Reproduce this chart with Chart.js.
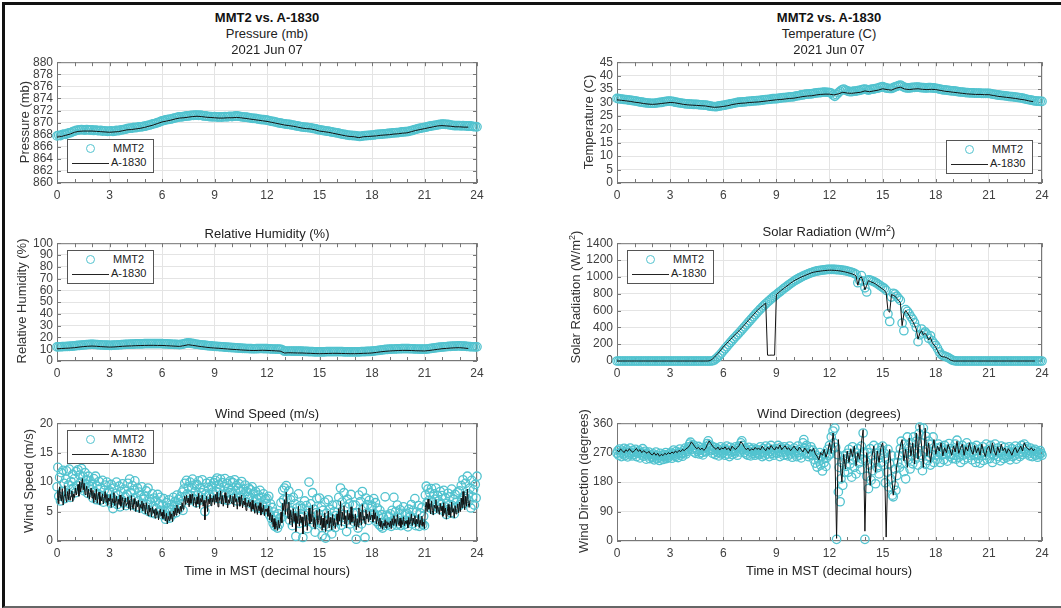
<!DOCTYPE html>
<html>
<head>
<meta charset="utf-8">
<script src="https://cdn.jsdelivr.net/npm/chart.js@4.4.1/dist/chart.umd.min.js"></script>
<style>
  html, body { margin: 0; padding: 0; background: #fff; }
  body { width: 1061px; height: 608px; position: relative; overflow: hidden;
         font-family: "Liberation Sans", Arial, sans-serif; }
  .frame { position: absolute; left: 2px; top: 2px; width: 1059px; height: 601px;
           border-top: 3px solid #111; border-left: 3px solid #111; border-bottom: 2px solid #666; }
  canvas { position: absolute; }
  .tt { position: absolute; transform: translate(-50%, -50%); font-size: 13px; color: #222;
        white-space: nowrap; z-index: 2; }
  .tt.b { font-weight: bold; color: #111; }
  .yt { position: absolute; transform: translate(-50%, -50%) rotate(-90deg); font-size: 13px;
        color: #333; white-space: nowrap; z-index: 2; }
  sup { font-size: 9px; line-height: 0; vertical-align: 5px; }
  .lg { position: absolute; width: 85px; height: 32px; border: 1px solid #555; background: #fff;
        font-size: 11px; color: #222; z-index: 3; }
  .lg .mk { position: absolute; left: 18px; top: 4px; width: 7px; height: 7px;
            border: 1.3px solid #52c3cf; border-radius: 50%; }
  .lg .t1 { position: absolute; left: 45px; top: 2px; }
  .lg .ln { position: absolute; left: 4px; top: 23px; width: 37px; border-top: 1px solid #222; }
  .lg .t2 { position: absolute; left: 43px; top: 16px; }
</style>
</head>
<body>
<div class="frame"></div>

<div class="tt b" style="left:267px;top:17px">MMT2 vs. A-1830</div>
<div class="tt" style="left:267px;top:33px">Pressure (mb)</div>
<div class="tt" style="left:267px;top:49px">2021 Jun 07</div>
<div class="tt b" style="left:829px;top:17px">MMT2 vs. A-1830</div>
<div class="tt" style="left:829px;top:33px">Temperature (C)</div>
<div class="tt" style="left:829px;top:49px">2021 Jun 07</div>
<div class="tt" style="left:267px;top:233px">Relative Humidity (%)</div>
<div class="tt" style="left:829px;top:231px">Solar Radiation (W/m<sup>2</sup>)</div>
<div class="tt" style="left:267px;top:413px">Wind Speed (m/s)</div>
<div class="tt" style="left:829px;top:413px">Wind Direction (degrees)</div>
<div class="tt" style="left:267px;top:570px">Time in MST (decimal hours)</div>
<div class="tt" style="left:829px;top:570px">Time in MST (decimal hours)</div>

<div class="yt" style="left:24px;top:122px">Pressure (mb)</div>
<div class="yt" style="left:588px;top:122px">Temperature (C)</div>
<div class="yt" style="left:21px;top:301px">Relative Humidity (%)</div>
<div class="yt" style="left:575px;top:297px">Solar Radiation (W/m<sup>2</sup>)</div>
<div class="yt" style="left:28px;top:481px">Wind Speed (m/s)</div>
<div class="yt" style="left:583px;top:481px">Wind Direction (degrees)</div>

<script>
(function () {
  'use strict';

  // x axis: hours MST, labelled every 3 h
  var X_TICK_LABELS = [0, 3, 6, 9, 12, 15, 18, 21, 24];
  var STEP_Q = 0.25;   // every 15 min
  var STEP_F = 0.1;    // every 6 min
  var STEP_W = 0.05;   // every 3 min

  // y ranges [min, max, step]
  var Y_PRES = [860, 880, 2];
  var Y_TEMP = [0, 45, 5];
  var Y_RH = [0, 100, 10];
  var Y_SOLAR = [0, 1400, 200];
  var Y_WSPD = [0, 20, 5];
  var Y_WDIR = [0, 360, 90];

  // Pressure (mb) – MMT2 one row per hour (0.1 h), A-1830 quarter hours
  var P_MMT2 = [
    867.8, 867.9, 867.85, 868.0, 868.1, 868.05, 868.2, 868.3, 868.35, 868.5,
    868.6, 868.7, 868.75, 868.8, 868.85, 868.8, 868.75, 868.85, 868.8, 868.75,
    868.8, 868.7, 868.75, 868.7, 868.65, 868.7, 868.6, 868.65, 868.6, 868.55,
    868.6, 868.65, 868.55, 868.6, 868.7, 868.65, 868.75, 868.8, 868.85, 868.9,
    869.0, 869.05, 869.1, 869.1, 869.2, 869.15, 869.25, 869.3, 869.3, 869.35,
    869.4, 869.45, 869.55, 869.6, 869.7, 869.8, 869.85, 869.95, 870.05, 870.15,
    870.3, 870.35, 870.45, 870.5, 870.55, 870.6, 870.65, 870.75, 870.8, 870.9,
    870.95, 870.95, 871.0, 871.05, 871.1, 871.1, 871.15, 871.2, 871.2, 871.25,
    871.25, 871.2, 871.25, 871.15, 871.1, 871.1, 871.05, 871.0, 871.0, 870.95,
    871.0, 870.95, 870.9, 870.95, 870.9, 870.95, 871.0, 870.95, 871.0, 871.05,
    871.0, 871.05, 871.1, 871.1, 871.05, 871.0, 870.95, 870.9, 870.9, 870.85,
    870.8, 870.75, 870.7, 870.7, 870.65, 870.6, 870.55, 870.5, 870.5, 870.45,
    870.4, 870.35, 870.25, 870.2, 870.15, 870.1, 870.0, 869.95, 869.9, 869.85,
    869.8, 869.75, 869.7, 869.7, 869.6, 869.6, 869.5, 869.45, 869.4, 869.35,
    869.3, 869.25, 869.2, 869.2, 869.15, 869.15, 869.05, 869.0, 868.95, 868.85,
    868.8, 868.75, 868.7, 868.65, 868.6, 868.6, 868.5, 868.45, 868.4, 868.35,
    868.3, 868.25, 868.15, 868.1, 868.05, 868.0, 867.95, 867.9, 867.9, 867.85,
    867.85, 867.8, 867.75, 867.7, 867.75, 867.8, 867.85, 867.85, 867.9, 867.9,
    867.95, 867.95, 868.0, 868.05, 868.05, 868.1, 868.1, 868.15, 868.15, 868.2,
    868.2, 868.25, 868.3, 868.3, 868.35, 868.35, 868.4, 868.45, 868.45, 868.5,
    868.5, 868.55, 868.65, 868.7, 868.8, 868.9, 868.95, 869.05, 869.1, 869.15,
    869.2, 869.25, 869.35, 869.4, 869.45, 869.5, 869.55, 869.6, 869.65, 869.7,
    869.75, 869.75, 869.7, 869.7, 869.65, 869.6, 869.55, 869.5, 869.5, 869.5,
    869.5, 869.45, 869.5, 869.45, 869.45, 869.4, 869.45, 869.4, 869.35, 869.35,
    869.3
  ];
  var P_A1830 = [
    867.6, 867.7, 867.9, 868.1, 868.4, 868.55, 868.6, 868.6, 868.6, 868.55, 868.5, 868.45,
    868.4, 868.45, 868.5, 868.65, 868.8, 868.85, 868.95, 869.05, 869.2, 869.4, 869.6, 869.85,
    870.1, 870.25, 870.4, 870.6, 870.75, 870.8, 870.9, 871.0, 871.05, 871.0, 870.9, 870.85,
    870.8, 870.75, 870.75, 870.8, 870.8, 870.85, 870.8, 870.7, 870.6, 870.5, 870.4, 870.3,
    870.2, 870.05, 869.9, 869.75, 869.6, 869.5, 869.4, 869.25, 869.1, 869.0, 868.95, 868.8,
    868.6, 868.5, 868.4, 868.25, 868.1, 867.95, 867.8, 867.7, 867.65, 867.5, 867.65, 867.7,
    867.75, 867.8, 867.9, 867.95, 868.0, 868.1, 868.15, 868.25, 868.3, 868.5, 868.7, 868.85,
    869.0, 869.15, 869.3, 869.45, 869.5, 869.45, 869.4, 869.3, 869.3, 869.25, 869.25
  ];

  // Temperature (C)
  var T_MMT2 = [
    31.5, 31.4, 31.3, 31.3, 31.1, 31.1, 31.0, 30.9, 30.8, 30.7,
    30.6, 30.5, 30.3, 30.2, 30.1, 30.0, 29.9, 29.8, 29.8, 29.7,
    29.7, 29.7, 29.8, 29.9, 30.0, 30.0, 30.2, 30.3, 30.4, 30.5,
    30.5, 30.4, 30.3, 30.1, 30.0, 29.9, 29.8, 29.7, 29.6, 29.5,
    29.5, 29.4, 29.4, 29.3, 29.3, 29.3, 29.2, 29.1, 29.1, 29.0,
    29.0, 28.9, 28.7, 28.6, 28.5, 28.5, 28.4, 28.6, 28.7, 28.8,
    28.9, 29.0, 29.2, 29.3, 29.5, 29.6, 29.7, 29.9, 30.0, 30.1,
    30.1, 30.2, 30.2, 30.3, 30.4, 30.4, 30.5, 30.6, 30.6, 30.7,
    30.7, 30.8, 30.9, 31.0, 31.1, 31.1, 31.2, 31.3, 31.4, 31.4,
    31.4, 31.5, 31.6, 31.7, 31.8, 31.8, 31.9, 32.0, 32.1, 32.1,
    32.2, 32.4, 32.5, 32.6, 32.8, 32.8, 33.0, 33.1, 33.1, 33.2,
    33.2, 33.4, 33.5, 33.6, 33.7, 33.7, 33.8, 33.9, 33.8, 33.8,
    33.7, 33.5, 32.8, 32.3, 32.9, 33.6, 34.2, 34.7, 35.0, 34.6,
    34.3, 34.1, 34.0, 34.1, 34.2, 34.2, 34.4, 34.5, 34.7, 34.9,
    35.0, 34.8, 34.6, 34.8, 35.0, 35.0, 35.2, 35.3, 35.5, 35.7,
    35.9, 35.6, 35.4, 35.3, 35.2, 35.2, 35.5, 35.8, 36.0, 36.3,
    36.5, 36.1, 35.7, 35.5, 35.4, 35.4, 35.5, 35.6, 35.6, 35.7,
    35.7, 35.6, 35.5, 35.5, 35.4, 35.4, 35.5, 35.5, 35.4, 35.4,
    35.3, 35.2, 35.0, 34.9, 34.7, 34.7, 34.6, 34.5, 34.4, 34.3,
    34.3, 34.2, 34.1, 34.0, 33.9, 33.9, 33.8, 33.7, 33.7, 33.6,
    33.6, 33.6, 33.5, 33.5, 33.5, 33.5, 33.4, 33.4, 33.4, 33.4,
    33.4, 33.3, 33.1, 33.0, 32.9, 32.8, 32.7, 32.6, 32.6, 32.5,
    32.4, 32.3, 32.2, 32.2, 32.1, 32.0, 31.9, 31.8, 31.7, 31.6,
    31.4, 31.3, 31.1, 31.0, 30.9, 30.7, 30.6, 30.5, 30.5, 30.4,
    30.4
  ];
  var T_A1830 = [
    31.0, 30.8, 30.6, 30.4, 30.1, 29.9, 29.6, 29.4, 29.3, 29.4, 29.6, 29.8,
    30.0, 29.9, 29.6, 29.3, 29.1, 29.0, 28.9, 28.8, 28.7, 28.4, 28.2, 28.3,
    28.5, 28.8, 29.2, 29.5, 29.7, 29.8, 30.0, 30.1, 30.2, 30.4, 30.6, 30.8,
    31.0, 31.1, 31.3, 31.5, 31.6, 31.9, 32.2, 32.4, 32.5, 32.8, 33.0, 33.1,
    33.1, 32.8, 33.2, 33.8, 33.5, 33.4, 33.6, 33.8, 34.3, 34.0, 34.3, 34.6,
    35.1, 34.8, 34.6, 35.3, 35.7, 35.0, 34.8, 35.0, 35.1, 34.9, 34.8, 34.9,
    34.8, 34.5, 34.2, 34.0, 33.8, 33.6, 33.4, 33.2, 33.1, 33.0, 33.0, 32.9,
    32.9, 32.6, 32.3, 32.1, 31.9, 31.7, 31.5, 31.2, 31.0, 30.6, 30.3
  ];

  // Relative humidity (%)
  var RH_MMT2 = [
    12.0, 12.1, 12.1, 12.2, 12.3, 12.3, 12.4, 12.5, 12.6, 12.7,
    12.8, 13.0, 13.2, 13.3, 13.5, 13.6, 13.8, 13.9, 14.0, 14.1,
    14.2, 14.1, 14.0, 13.9, 13.8, 13.7, 13.6, 13.5, 13.5, 13.4,
    13.3, 13.3, 13.4, 13.5, 13.6, 13.7, 13.8, 13.9, 14.0, 14.1,
    14.2, 14.2, 14.3, 14.3, 14.4, 14.5, 14.5, 14.6, 14.6, 14.6,
    14.7, 14.7, 14.8, 14.8, 14.8, 14.8, 14.8, 14.7, 14.7, 14.7,
    14.7, 14.6, 14.5, 14.5, 14.4, 14.3, 14.2, 14.1, 14.1, 14.0,
    13.9, 14.1, 14.4, 14.7, 15.1, 15.4, 15.2, 14.9, 14.7, 14.4,
    14.2, 14.0, 13.8, 13.6, 13.4, 13.2, 13.0, 12.9, 12.8, 12.6,
    12.5, 12.4, 12.3, 12.2, 12.1, 12.0, 11.8, 11.7, 11.6, 11.5,
    11.4, 11.3, 11.2, 11.1, 11.0, 10.9, 10.8, 10.7, 10.6, 10.6,
    10.5, 10.5, 10.4, 10.4, 10.5, 10.5, 10.6, 10.6, 10.5, 10.5,
    10.5, 10.4, 10.3, 10.2, 10.2, 10.1, 10.0, 10.0, 9.9, 9.2,
    8.3, 8.4, 8.5, 8.5, 8.4, 8.4, 8.3, 8.3, 8.3, 8.3,
    8.3, 8.2, 8.1, 8.1, 8.0, 8.0, 7.9, 7.8, 7.8, 7.7,
    7.7, 7.7, 7.8, 7.8, 7.9, 7.9, 8.0, 8.0, 8.0, 8.0,
    8.0, 8.0, 7.9, 7.9, 7.8, 7.8, 7.8, 7.7, 7.7, 7.7,
    7.7, 7.7, 7.8, 7.8, 7.9, 8.0, 8.0, 8.1, 8.1, 8.2,
    8.3, 8.5, 8.7, 8.9, 9.1, 9.3, 9.5, 9.6, 9.8, 9.9,
    10.0, 10.1, 10.2, 10.2, 10.3, 10.4, 10.4, 10.5, 10.5, 10.5,
    10.5, 10.5, 10.4, 10.4, 10.3, 10.2, 10.2, 10.1, 10.1, 10.0,
    10.0, 10.1, 10.3, 10.5, 10.7, 10.9, 11.1, 11.3, 11.5, 11.7,
    11.9, 12.0, 12.1, 12.3, 12.4, 12.5, 12.6, 12.7, 12.7, 12.8,
    12.8, 12.7, 12.7, 12.6, 12.5, 12.3, 12.2, 12.1, 12.1, 12.0,
    12.0
  ];
  var RH_A1830 = [
    10.4, 10.6, 10.8, 11.0, 11.3, 11.8, 12.2, 12.5, 12.7, 12.5, 12.2, 12.0,
    11.8, 11.9, 12.2, 12.5, 12.7, 12.8, 13.0, 13.1, 13.2, 13.3, 13.3, 13.2,
    13.2, 13.0, 12.8, 12.6, 12.4, 13.0, 13.8, 13.3, 12.7, 12.2, 11.7, 11.3,
    11.0, 10.8, 10.5, 10.2, 9.9, 9.7, 9.4, 9.2, 9.0, 8.9, 9.0, 9.1,
    9.0, 8.8, 8.6, 8.4, 6.8, 7.0, 6.9, 6.8, 6.8, 6.6, 6.5, 6.3,
    6.2, 6.3, 6.4, 6.5, 6.5, 6.4, 6.3, 6.2, 6.2, 6.3, 6.5, 6.6,
    6.8, 7.3, 7.8, 8.2, 8.5, 8.7, 8.9, 9.0, 9.0, 8.9, 8.7, 8.6,
    8.5, 8.9, 9.4, 9.9, 10.4, 10.7, 11.0, 11.2, 11.3, 11.0, 10.6
  ];

  // Solar radiation (W/m2), one row per hour
  var S_MMT2 = [
    0, 0, 0, 0, 0, 0, 0, 0, 0, 0,
    0, 0, 0, 0, 0, 0, 0, 0, 0, 0,
    0, 0, 0, 0, 0, 0, 0, 0, 0, 0,
    0, 0, 0, 0, 0, 0, 0, 0, 0, 0,
    0, 0, 0, 0, 0, 0, 0, 0, 0, 0,
    0, 0, 0, 0, 3, 12, 28, 48, 70, 94,
    120, 145, 170, 195, 220, 244, 267, 290, 312, 335,
    358, 382, 406, 430, 454, 478, 502, 526, 550, 573,
    596, 618, 640, 660, 680, 700, 718, 737, 755, 772,
    789, 806, 823, 840, 857, 873, 889, 905, 920, 935,
    950, 963, 975, 987, 998, 1008, 1018, 1027, 1036, 1044,
    1052, 1059, 1065, 1070, 1074, 1078, 1081, 1084, 1086, 1088,
    1089, 1089, 1089, 1088, 1087, 1085, 1083, 1080, 1077, 1073,
    1068, 1063, 1057, 1050, 1042, 1030, 930, 960, 1015, 950,
    870, 820, 965, 960, 952, 945, 933, 920, 905, 890,
    876, 862, 840, 560, 470, 760, 805, 795, 770, 745,
    720, 450, 360, 610, 590, 560, 525, 495, 455, 400,
    230, 310, 380, 330, 345, 320, 270, 300, 240, 210,
    185, 150, 110, 80, 65, 58, 50, 40, 28, 15,
    6, 2, 0, 0, 0, 0, 0, 0, 0, 0,
    0, 0, 0, 0, 0, 0, 0, 0, 0, 0,
    0, 0, 0, 0, 0, 0, 0, 0, 0, 0,
    0, 0, 0, 0, 0, 0, 0, 0, 0, 0,
    0, 0, 0, 0, 0, 0, 0, 0, 0, 0,
    0
  ];
  var S_A1830 = [
    0, 0, 0, 0, 0, 0, 0, 0, 0, 0,
    0, 0, 0, 0, 0, 0, 0, 0, 0, 0,
    0, 0, 0, 0, 0, 0, 0, 0, 0, 0,
    0, 0, 0, 0, 0, 0, 0, 0, 0, 0,
    0, 0, 0, 0, 0, 0, 0, 0, 0, 0,
    0, 0, 2, 10, 25, 45, 68, 90, 115, 140,
    166, 188, 210, 232, 254, 276, 298, 320, 341, 362,
    382, 406, 430, 454, 478, 502, 525, 548, 572, 596,
    619, 636, 654, 671, 688, 70, 68, 70, 69, 70,
    790, 808, 826, 843, 860, 876, 892, 908, 924, 939,
    954, 965, 976, 987, 997, 1006, 1015, 1024, 1032, 1040,
    1050, 1055, 1059, 1063, 1066, 1069, 1072, 1074, 1076, 1078,
    1079, 1079, 1078, 1077, 1075, 1073, 1070, 1066, 1062, 1057,
    1052, 1046, 1040, 1033, 1025, 1010, 900, 985, 1000, 940,
    845, 900, 955, 945, 935, 928, 915, 900, 885, 870,
    855, 840, 810, 600, 580, 790, 780, 770, 745, 720,
    695, 420, 560, 600, 570, 540, 500, 470, 430, 380,
    260, 330, 360, 310, 330, 300, 250, 280, 220, 190,
    165, 120, 80, 55, 50, 48, 40, 30, 15, 6,
    0, 0, 0, 0, 0, 0, 0, 0, 0, 0,
    0, 0, 0, 0, 0, 0, 0, 0, 0, 0,
    0, 0, 0, 0, 0, 0, 0, 0, 0, 0,
    0, 0, 0, 0, 0, 0, 0, 0, 0, 0,
    0, 0, 0, 0, 0, 0, 0
  ];

  // Wind speed (m/s), one row per hour (0.05 h)
  var WS_MMT2 = [
    9.2, 12.5, 7.6, 10.8, 6.8, 11.6, 8.4, 12.0, 9.8, 7.2, 10.5, 11.9, 8.0, 9.5, 12.2, 7.4, 10.1, 8.8, 11.3, 9.0,
    10.6, 8.2, 11.8, 9.4, 12.1, 8.8, 11.2, 10.0, 12.3, 9.1, 10.9, 8.5, 11.6, 9.7, 10.4, 8.1, 11.0, 9.3, 10.2, 8.7,
    9.6, 7.3, 10.6, 8.4, 11.0, 7.0, 9.3, 8.0, 10.1, 6.9, 9.0, 7.7, 10.3, 6.6, 8.6, 9.5, 7.2, 10.0, 8.1, 7.0,
    8.5, 6.4, 9.6, 7.3, 5.5, 9.0, 6.9, 8.1, 10.0, 6.2, 7.8, 9.3, 5.8, 8.4, 7.0, 9.7, 6.5, 8.8, 7.5, 6.0,
    7.9, 9.8, 6.4, 10.5, 8.2, 7.0, 9.4, 6.1, 8.6, 10.2, 7.4, 5.8, 9.0, 6.8, 8.3, 5.6, 7.7, 9.2, 6.3, 7.1,
    7.6, 5.3, 8.5, 6.2, 9.0, 5.0, 7.1, 6.6, 4.8, 8.0, 5.9, 7.3, 4.6, 6.8, 5.5, 7.9, 4.9, 6.3, 7.4, 5.2,
    6.1, 4.4, 7.2, 5.0, 3.7, 6.5, 4.1, 5.6, 7.0, 3.9, 5.3, 6.2, 4.5, 7.4, 5.8, 6.7, 4.8, 7.8, 6.0, 7.1,
    5.5, 7.5, 6.3, 8.3, 5.2, 8.8, 9.8, 7.6, 10.3, 8.0, 9.2, 6.9, 10.0, 7.7, 9.0, 10.5, 7.2, 9.5, 8.4, 6.5,
    9.6, 7.8, 10.2, 6.9, 9.0, 8.2, 10.4, 7.1, 8.7, 5.0, 8.0, 9.8, 6.6, 9.1, 7.9, 10.1, 7.4, 9.3, 8.3, 9.9,
    7.8, 10.3, 8.4, 10.7, 7.2, 9.6, 8.8, 10.5, 7.9, 9.9, 7.0, 9.2, 10.6, 8.1, 9.8, 6.9, 9.0, 8.2, 10.2, 8.6,
    8.0, 9.9, 7.3, 10.4, 8.6, 9.4, 6.8, 9.0, 9.7, 7.4, 8.5, 10.1, 7.0, 8.8, 7.8, 9.5, 6.6, 8.4, 7.5, 9.0,
    7.4, 8.7, 6.3, 9.2, 6.9, 8.1, 5.8, 8.4, 7.2, 5.6, 7.8, 6.4, 8.6, 5.5, 7.4, 6.1, 8.0, 5.3, 7.1, 6.4,
    7.2, 5.3, 7.6, 4.4, 6.3, 3.8, 5.7, 3.0, 4.9, 2.5, 4.2, 3.2, 2.2, 4.6, 2.8, 3.9, 6.5, 4.0, 8.6, 7.0,
    9.0, 5.8, 9.4, 7.2, 4.7, 8.5, 3.5, 7.0, 5.1, 2.6, 7.4, 4.2, 6.3, 0.8, 5.6, 3.7, 8.0, 3.0, 6.0, 4.0,
    5.5, 0.6, 4.5, 6.8, 3.2, 6.0, 2.1, 5.2, 10.0, 3.6, 6.3, 4.1, 8.2, 2.9, 5.4, 1.5, 4.8, 7.2, 3.4, 4.6,
    7.3, 3.0, 5.8, 0.9, 5.2, 2.6, 6.6, 0.5, 4.7, 3.5, 7.0, 2.4, 5.4, 3.9, 1.2, 6.1, 3.1, 5.0, 2.3, 4.3,
    6.2, 3.4, 7.4, 4.2, 9.0, 2.7, 6.6, 4.5, 8.2, 3.3, 5.8, 1.6, 7.1, 4.4, 6.3, 2.9, 7.9, 3.8, 6.1, 4.7,
    3.2, 6.1, 0.3, 4.8, 2.2, 7.8, 3.6, 6.7, 2.9, 8.4, 4.3, 5.7, 0.6, 7.3, 4.7, 6.2, 3.5, 6.9, 4.4, 5.8,
    6.0, 3.9, 7.2, 4.6, 6.5, 3.3, 5.6, 4.3, 2.8, 5.2, 2.5, 4.5, 2.2, 4.0, 3.0, 7.5, 2.6, 4.4, 3.2, 4.1,
    2.9, 4.6, 2.5, 5.2, 3.3, 7.4, 3.6, 5.0, 2.7, 6.1, 4.0, 2.9, 5.3, 2.6, 4.7, 3.2, 5.8, 2.8, 4.5, 3.5,
    4.7, 2.4, 5.4, 3.3, 4.2, 6.2, 2.9, 5.2, 3.6, 7.2, 2.6, 4.9, 3.4, 6.0, 2.5, 4.8, 3.1, 5.7, 2.8, 4.2,
    2.6, 7.8, 9.3, 6.5, 8.8, 6.9, 8.2, 5.6, 8.9, 6.6, 5.3, 8.0, 7.1, 9.0, 5.8, 7.7, 6.8, 5.4, 8.4, 6.2,
    7.7, 5.2, 8.6, 5.8, 7.3, 4.5, 6.4, 8.1, 5.4, 7.5, 4.8, 8.8, 6.0, 7.1, 4.6, 7.9, 5.7, 6.6, 8.3, 5.9,
    8.5, 6.2, 9.4, 6.9, 10.4, 7.6, 6.4, 9.8, 7.2, 11.0, 8.0, 6.8, 9.0, 5.6, 10.3, 7.5, 8.7, 6.1, 9.6, 7.3,
    11.0
  ];
  var WS_A1830 = [
    7.0, 8.6, 6.3, 9.2, 7.5, 6.8, 8.9, 6.1, 7.7, 9.4, 7.2, 6.6, 8.4, 7.0, 8.8, 6.9, 7.6, 8.5, 6.7, 8.0,
    7.4, 9.0, 7.8, 8.5, 9.6, 7.6, 10.1, 8.3, 9.4, 10.6, 8.7, 9.8, 7.9, 8.6, 9.3, 7.4, 8.8, 7.1, 8.2, 9.0,
    7.3, 8.6, 6.5, 8.1, 7.0, 8.8, 6.4, 7.6, 8.3, 6.2, 7.5, 6.8, 8.0, 6.3, 7.2, 8.4, 6.6, 7.9, 6.0, 7.3,
    6.8, 7.9, 5.7, 7.2, 6.5, 8.2, 6.0, 6.9, 7.6, 5.5, 7.1, 6.2, 7.8, 5.9, 6.7, 7.4, 5.3, 6.6, 7.3, 6.0,
    6.4, 7.5, 5.5, 6.9, 5.2, 7.7, 6.1, 5.4, 7.2, 6.3, 5.0, 6.7, 5.8, 6.9, 4.8, 6.2, 5.6, 6.8, 5.1, 6.4,
    5.9, 4.6, 6.5, 5.2, 4.3, 6.1, 4.9, 5.6, 4.1, 5.8, 4.7, 5.3, 3.9, 5.5, 4.4, 5.0, 3.6, 4.8, 5.4, 4.2,
    4.9, 3.8, 5.3, 4.1, 3.4, 4.7, 2.9, 4.2, 3.5, 5.0, 3.8, 4.6, 3.3, 5.1, 4.2, 5.6, 4.4, 6.1, 4.8, 5.5,
    4.6, 5.9, 5.0, 6.5, 5.4, 6.9, 7.6, 6.2, 7.8, 6.5, 7.3, 5.8, 7.9, 6.4, 7.1, 8.0, 6.0, 7.4, 6.7, 5.7,
    7.5, 6.3, 8.1, 5.5, 7.2, 6.6, 7.8, 5.9, 6.9, 3.6, 6.4, 7.6, 5.0, 7.1, 6.3, 7.9, 6.0, 7.3, 6.6, 7.7,
    6.2, 7.9, 6.6, 8.3, 5.8, 7.4, 6.9, 8.5, 6.3, 7.7, 5.9, 7.2, 8.2, 6.5, 7.6, 5.6, 7.0, 6.4, 7.8, 6.7,
    6.3, 7.6, 5.8, 8.0, 6.7, 7.2, 5.4, 6.9, 7.5, 5.9, 6.6, 7.8, 5.6, 6.8, 6.1, 7.3, 5.2, 6.5, 5.9, 6.9,
    5.8, 6.6, 5.0, 6.9, 5.4, 6.2, 4.7, 6.4, 5.6, 4.5, 6.0, 5.1, 6.5, 4.4, 5.7, 4.9, 6.1, 4.3, 5.4, 5.0,
    5.5, 4.2, 5.9, 3.6, 4.8, 3.2, 4.4, 2.4, 3.8, 2.0, 3.3, 2.6, 1.8, 3.5, 2.2, 3.0, 4.9, 3.1, 6.4, 5.2,
    7.0, 4.5, 8.3, 5.6, 3.8, 6.6, 2.9, 5.2, 4.0, 2.4, 5.5, 3.3, 4.7, 1.6, 4.2, 3.0, 5.9, 2.5, 4.4, 3.1,
    4.1, 1.2, 3.4, 5.0, 2.6, 4.4, 1.8, 3.9, 5.6, 2.9, 4.6, 3.3, 6.1, 2.4, 4.0, 2.0, 3.7, 5.2, 2.8, 3.5,
    5.4, 2.7, 4.3, 1.8, 3.9, 2.3, 4.8, 1.6, 3.6, 2.9, 5.1, 2.2, 4.0, 3.1, 1.9, 4.5, 2.6, 3.8, 2.1, 3.3,
    4.6, 2.8, 5.5, 3.4, 6.7, 2.5, 4.9, 3.7, 6.0, 2.9, 4.3, 2.2, 5.2, 3.6, 4.7, 2.8, 5.8, 3.2, 4.5, 3.8,
    2.6, 4.6, 1.9, 3.8, 2.4, 5.6, 3.1, 4.9, 2.7, 6.2, 3.5, 4.2, 2.9, 5.3, 3.8, 4.6, 3.2, 5.0, 3.6, 4.3,
    4.4, 3.2, 5.3, 3.7, 4.8, 2.9, 4.2, 3.5, 2.6, 3.9, 2.3, 3.4, 2.0, 3.0, 2.5, 3.6, 2.2, 3.3, 2.7, 3.1,
    2.4, 3.4, 2.1, 3.8, 2.7, 4.3, 3.0, 3.7, 2.5, 4.5, 3.2, 2.6, 3.9, 2.3, 3.5, 2.8, 4.1, 2.6, 3.4, 2.9,
    3.5, 2.2, 4.0, 2.8, 3.3, 4.6, 2.6, 3.9, 3.0, 4.3, 2.4, 3.7, 2.9, 4.5, 2.3, 3.6, 2.7, 4.2, 2.5, 3.2,
    2.1, 5.7, 6.6, 5.0, 7.1, 5.4, 6.3, 4.6, 6.8, 5.2, 4.4, 6.1, 5.6, 7.0, 4.8, 6.0, 5.3, 4.5, 6.4, 5.1,
    5.9, 4.2, 6.5, 4.7, 5.6, 3.7, 5.0, 6.2, 4.4, 5.8, 4.0, 6.6, 4.9, 5.5, 3.9, 6.0, 4.6, 5.2, 6.3, 4.8,
    6.6, 5.0, 7.3, 5.6, 8.4, 6.2, 5.3, 7.6, 5.9, 8.8, 6.4, 5.7, 6.9
  ];

  // Wind direction (degrees) – MMT2 one row per hour (0.05 h), A-1830 0.1 h
  var WD_MMT2 = [
    268, 276, 262, 281, 270, 258, 275, 266, 283, 261, 272, 279, 257, 270, 264, 284, 268, 260, 277, 271,
    265, 280, 258, 272, 268, 276, 254, 270, 263, 282, 259, 268, 274, 250, 266, 260, 272, 252, 264, 258,
    255, 266, 248, 260, 272, 251, 262, 256, 246, 268, 254, 260, 249, 264, 257, 270, 252, 261, 255, 266,
    260, 271, 253, 266, 278, 262, 258, 274, 266, 255, 270, 281, 263, 268, 259, 276, 270, 284, 266, 273,
    279, 288, 296, 302, 290, 281, 294, 272, 286, 268, 280, 274, 289, 266, 278, 285, 270, 263, 282, 275,
    272, 288, 298, 306, 294, 283, 276, 290, 268, 279, 286, 264, 274, 282, 270, 260, 278, 288, 266, 275,
    270, 284, 262, 279, 290, 266, 276, 258, 286, 272, 264, 281, 274, 268, 288, 276, 262, 283, 290, 272,
    300, 306, 292, 280, 270, 284, 265, 277, 262, 286, 272, 260, 279, 268, 284, 274, 262, 280, 270, 266,
    278, 264, 288, 272, 258, 282, 270, 262, 290, 276, 266, 284, 258, 274, 292, 268, 280, 262, 276, 270,
    282, 268, 292, 274, 258, 286, 270, 280, 262, 288, 272, 264, 282, 260, 276, 290, 266, 278, 256, 272,
    284, 266, 276, 258, 290, 270, 262, 280, 254, 274, 300, 310, 282, 266, 292, 270, 258, 280, 264, 288,
    262, 278, 250, 270, 238, 262, 226, 254, 244, 270, 232, 258, 214, 250, 240, 266, 228, 255, 280, 262,
    292, 266, 318, 280, 336, 300, 345, 286, 5, 264, 150, 225, 120, 190, 240, 170, 260, 210, 250, 228,
    268, 210, 280, 235, 262, 195, 288, 248, 225, 270, 205, 255, 282, 238, 262, 218, 290, 250, 330, 272,
    5, 245, 198, 270, 160, 232, 282, 186, 260, 215, 292, 240, 175, 268, 224, 285, 205, 262, 240, 278,
    290, 232, 268, 178, 250, 210, 280, 165, 236, 190, 262, 140, 135, 170, 220, 155, 200, 240, 262, 225,
    282, 305, 238, 270, 212, 296, 190, 268, 318, 248, 285, 220, 300, 262, 236, 318, 276, 250, 305, 268,
    232, 328, 348, 262, 300, 215, 345, 272, 235, 320, 280, 246, 305, 258, 232, 296, 264, 318, 240, 278,
    262, 284, 250, 296, 270, 240, 288, 262, 276, 248, 292, 266, 280, 244, 270, 298, 258, 282, 264, 252,
    278, 262, 296, 250, 308, 270, 256, 285, 240, 276, 292, 262, 248, 280, 266, 300, 254, 276, 262, 288,
    270, 248, 286, 262, 276, 240, 292, 266, 252, 280, 238, 270, 260, 288, 246, 274, 262, 296, 250, 272,
    280, 252, 292, 266, 240, 278, 262, 296, 250, 270, 284, 258, 276, 245, 290, 264, 272, 252, 286, 262,
    256, 276, 264, 288, 248, 270, 282, 258, 272, 262, 290, 250, 276, 266, 284, 258, 272, 292, 264, 270,
    296, 282, 270, 288, 266, 278, 260, 284, 272, 258, 276, 266, 280, 262, 274, 256, 270, 264, 276, 268,
    262
  ];
  var WD_A1830 = [
    278, 272, 281, 276, 270, 279, 274, 282, 275, 271,
    277, 283, 274, 279, 270, 276, 272, 268, 274, 266,
    263, 270, 262, 268, 259, 265, 261, 268, 264, 270,
    266, 272, 268, 275, 270, 277, 273, 280, 276, 282,
    285, 292, 303, 296, 288, 282, 286, 279, 284, 277,
    282, 295, 306, 298, 290, 284, 280, 287, 278, 285,
    281, 288, 279, 285, 276, 290, 283, 280, 286, 292,
    304, 296, 286, 279, 284, 276, 282, 278, 286, 280,
    284, 278, 290, 282, 276, 287, 280, 292, 284, 278,
    288, 282, 294, 279, 286, 291, 280, 285, 276, 283,
    290, 281, 276, 287, 279, 272, 284, 277, 268, 280,
    274, 283, 266, 259, 248, 270, 262, 280, 256, 272,
    300, 268, 330, 285, 8, 310, 240, 180, 265, 220,
    275, 240, 282, 258, 290, 230, 270, 250, 300, 340,
    30, 270, 220, 170, 260, 290, 210, 275, 240, 285,
    300, 250, 12, 235, 280, 200, 140, 175, 230, 260,
    290, 310, 245, 280, 225, 315, 260, 300, 235, 330,
    250, 355, 290, 225, 345, 260, 300, 240, 280, 310,
    265, 290, 275, 300, 260, 285, 270, 295, 280, 262,
    290, 272, 305, 268, 284, 296, 262, 288, 275, 300,
    278, 265, 292, 270, 285, 262, 296, 274, 258, 282,
    290, 268, 300, 275, 262, 288, 270, 296, 276, 284,
    268, 282, 274, 262, 278, 286, 270, 280, 290, 275,
    300, 288, 282, 278, 285, 276, 280
  ];

  var CYAN = '#52c3cf', GRID = '#e4e4e4', BOX = '#777', TICK_LEN = 4;
  var COLS = [{ left: 57, right: 477 }, { left: 617, right: 1042 }];
  var ROWS = [{ top: 61, bottom: 183 }, { top: 242, bottom: 361 }, { top: 422, bottom: 541 }];
  var AXIS_W = 57, PAD_TOP = 10, PAD_RIGHT = 14, XAXIS_H = 22;

  Chart.defaults.font.family = '"Liberation Sans", Arial, sans-serif';
  Chart.defaults.font.size = 12;
  Chart.defaults.color = '#404040';

  var PANELS = [
    { col: 0, row: 0, y: Y_PRES, mmt: P_MMT2, a: P_A1830, stepM: STEP_F, stepA: STEP_Q },
    { col: 1, row: 0, y: Y_TEMP, mmt: T_MMT2, a: T_A1830, stepM: STEP_F, stepA: STEP_Q },
    { col: 0, row: 1, y: Y_RH, mmt: RH_MMT2, a: RH_A1830, stepM: STEP_F, stepA: STEP_Q },
    { col: 1, row: 1, y: Y_SOLAR, mmt: S_MMT2, a: S_A1830, stepM: STEP_F, stepA: STEP_F },
    { col: 0, row: 2, y: Y_WSPD, mmt: WS_MMT2, a: WS_A1830, stepM: STEP_W, stepA: STEP_W },
    { col: 1, row: 2, y: Y_WDIR, mmt: WD_MMT2, a: WD_A1830, stepM: STEP_W, stepA: STEP_F }
  ];

  // legend boxes (top-left corner)
  var LEGENDS = [[67, 139], [946, 140], [67, 250], [627, 250], [67, 430]];

  function pts(vals, step) {
    return vals.map(function (v, i) { return { x: Math.round(i * step * 100) / 100, y: v }; });
  }

  // MATLAB-style box with inward ticks (major y, hourly x)
  var matlabBox = {
    id: 'matlabBox',
    beforeDatasetsDraw: function (chart) {
      var a = chart.chartArea, ctx = chart.ctx, xs = chart.scales.x, ys = chart.scales.y;
      ctx.save();
      ctx.strokeStyle = BOX;
      ctx.lineWidth = 1;
      ctx.strokeRect(a.left + 0.5, a.top + 0.5, a.right - a.left - 1, a.bottom - a.top - 1);
      ctx.beginPath();
      for (var h = 0; h <= 24; h++) {
        var px = Math.round(xs.getPixelForValue(h)) + 0.5;
        ctx.moveTo(px, a.bottom); ctx.lineTo(px, a.bottom - TICK_LEN);
        ctx.moveTo(px, a.top); ctx.lineTo(px, a.top + TICK_LEN);
      }
      ys.ticks.forEach(function (t) {
        var py = Math.round(ys.getPixelForValue(t.value)) + 0.5;
        ctx.moveTo(a.left, py); ctx.lineTo(a.left + TICK_LEN, py);
        ctx.moveTo(a.right, py); ctx.lineTo(a.right - TICK_LEN, py);
      });
      ctx.stroke();
      ctx.restore();
    }
  };

  function makePanel(p) {
    var c = COLS[p.col], r = ROWS[p.row];
    var w = (c.right + PAD_RIGHT) - (c.left - AXIS_W);
    var h = PAD_TOP + (r.bottom - r.top) + XAXIS_H;
    var cv = document.createElement('canvas');
    cv.width = w; cv.height = h;
    cv.style.left = (c.left - AXIS_W) + 'px';
    cv.style.top = (r.top - PAD_TOP) + 'px';
    cv.style.width = w + 'px'; cv.style.height = h + 'px';
    document.body.appendChild(cv);

    new Chart(cv.getContext('2d'), {
      type: 'line',
      data: {
        datasets: [
          { label: 'A-1830', data: pts(p.a, p.stepA), borderColor: '#111', borderWidth: 1,
            pointRadius: 0, tension: 0, clip: false, order: 0 },
          { label: 'MMT2', data: pts(p.mmt, p.stepM), showLine: false, pointRadius: 4.2,
            pointBorderWidth: 1.3, pointBorderColor: CYAN, pointBackgroundColor: 'rgba(0,0,0,0)',
            borderColor: CYAN, backgroundColor: 'rgba(0,0,0,0)', clip: false, order: 1 }
        ]
      },
      options: {
        responsive: false, animation: false, devicePixelRatio: 1, events: [],
        layout: { padding: { left: 0, top: PAD_TOP, right: PAD_RIGHT, bottom: 0 } },
        plugins: { legend: { display: false }, tooltip: { enabled: false } },
        scales: {
          x: {
            type: 'linear', min: 0, max: 24,
            afterFit: function (s) { s.height = XAXIS_H; },
            ticks: {
              stepSize: 1, autoSkip: false, maxRotation: 0, padding: 5,
              callback: function (v) { return X_TICK_LABELS.indexOf(v) >= 0 ? String(v) : ''; }
            },
            grid: {
              drawTicks: false,
              color: function (ctx) {
                return ctx.tick && X_TICK_LABELS.indexOf(ctx.tick.value) >= 0 ? GRID : 'rgba(0,0,0,0)';
              }
            },
            border: { display: false }
          },
          y: {
            min: p.y[0], max: p.y[1],
            afterFit: function (s) { s.width = AXIS_W; },
            ticks: { stepSize: p.y[2], padding: 4, autoSkip: false,
                     callback: function (v) { return String(v); } },
            grid: { drawTicks: false, color: GRID },
            border: { display: false }
          }
        }
      },
      plugins: [matlabBox]
    });
  }

  PANELS.forEach(makePanel);

  LEGENDS.forEach(function (pos) {
    var d = document.createElement('div');
    d.className = 'lg';
    d.style.left = pos[0] + 'px';
    d.style.top = pos[1] + 'px';
    d.innerHTML = '<span class="mk"></span><span class="t1">MMT2</span>' +
      '<span class="ln"></span><span class="t2">A-1830</span>';
    document.body.appendChild(d);
  });
})();
</script>
</body>
</html>
